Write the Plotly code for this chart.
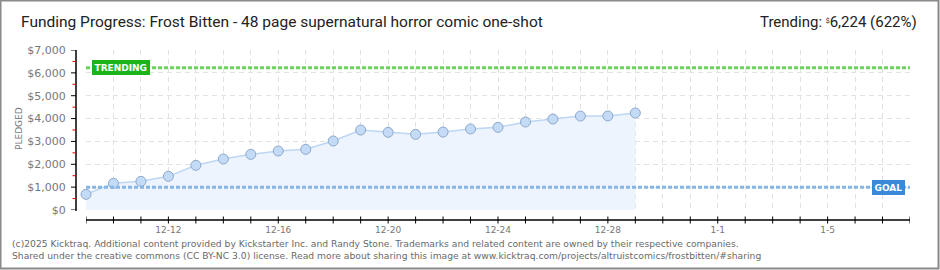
import plotly.graph_objects as go
import pandas as pd

# ---- data ----
dates = pd.date_range("2024-12-09", "2024-12-29", freq="D").strftime("%Y-%m-%d").tolist()
pledged = [685, 1167, 1254, 1473, 1954, 2231, 2435, 2581, 2654, 3019, 3500,
           3398, 3310, 3410, 3544, 3617, 3850, 3980, 4110, 4115, 4244]
goal = 1000
trending = 6224
trending_pct = 622
x_start, x_end = "2024-12-09", "2025-01-08"
x_tick_vals = ["2024-12-12", "2024-12-16", "2024-12-20", "2024-12-24",
               "2024-12-28", "2025-01-01", "2025-01-05"]
x_tick_text = ["12-12", "12-16", "12-20", "12-24", "12-28", "1-1", "1-5"]
y_tick_vals = [0, 1000, 2000, 3000, 4000, 5000, 6000, 7000]
y_tick_text = ["$0", "$1,000", "$2,000", "$3,000", "$4,000", "$5,000", "$6,000", "$7,000"]
y_minor_vals = [500, 1500, 2500, 3500, 4500, 5500, 6500]
title = "Funding Progress: Frost Bitten - 48 page supernatural horror comic one-shot"
footer1 = ("(c)2025 Kicktraq. Additional content provided by Kickstarter Inc. and Randy Stone. "
           "Trademarks and related content are owned by their respective companies.")
footer2 = ("Shared under the creative commons (CC BY-NC 3.0) license. Read more about sharing "
           "this image at www.kicktraq.com/projects/altruistcomics/frostbitten/#sharing")

W, H = 940, 270
L, R, T, B = 86, 910, 50, 210


def PX(px):
    return (px - L) / (R - L)


def PY(py):
    return (B - py) / (B - T)


GRID = "#e2e2e2"
fig = go.Figure()
fig.add_trace(go.Scatter(
    x=dates, y=pledged, mode="lines+markers", fill="tozeroy",
    fillcolor="#edf4fd", line=dict(color="#bcd6f3", width=1.5),
    marker=dict(size=10, color="#c3dbf6", line=dict(color="#8ea8cb", width=1)),
    hoverinfo="skip", showlegend=False, cliponaxis=False))

shapes = []
# goal / trending dotted lines
shapes.append(dict(type="line", xref="paper", yref="y", x0=0, x1=1, y0=trending, y1=trending,
                   line=dict(color="#6bd35c", width=3, dash="4px,2px"), layer="above"))
shapes.append(dict(type="line", xref="paper", yref="y", x0=0, x1=1, y0=goal, y1=goal,
                   line=dict(color="#86b5e6", width=3, dash="4px,2px"), layer="above"))
# axis lines
shapes.append(dict(type="line", xref="paper", yref="paper", x0=0, x1=1, y0=PY(220), y1=PY(220),
                   line=dict(color="#000", width=1.5)))
shapes.append(dict(type="line", xref="paper", yref="paper", x0=PX(76), x1=PX(76), y0=PY(50), y1=PY(211),
                   line=dict(color="#000", width=1.5)))
# x ticks every day
for d in pd.date_range(x_start, x_end, freq="D"):
    shapes.append(dict(type="line", xref="x", yref="paper", x0=d, x1=d, y0=PY(216.5), y1=PY(223.5),
                       line=dict(color="#000", width=1)))
# y ticks
for v in y_tick_vals:
    shapes.append(dict(type="line", xref="paper", yref="y", x0=PX(71), x1=PX(76), y0=v, y1=v,
                       line=dict(color="#000", width=1)))
for v in y_minor_vals:
    shapes.append(dict(type="line", xref="paper", yref="y", x0=PX(72.5), x1=PX(76), y0=v, y1=v,
                       line=dict(color="#e00000", width=1)))
# frame
shapes.append(dict(type="rect", xref="paper", yref="paper", x0=PX(0.5), x1=PX(938.5), y0=PY(268.5), y1=PY(0.5),
                   line=dict(color="#8a8a8a", width=2)))

annotations = [
    dict(text=title, xref="paper", yref="paper", x=PX(19), y=PY(22), xanchor="left", yanchor="middle",
         showarrow=False, font=dict(family="Roboto", size=15.5, color="#222")),
    dict(text="Trending: <span style='font-size:10px'><sup>$</sup></span>6,224 (%d%%)" % trending_pct,
         xref="paper", yref="paper",
         x=PX(919), y=PY(22), xanchor="right", yanchor="middle",
         showarrow=False, font=dict(family="Roboto", size=15, color="#222")),
    dict(text="PLEDGED", xref="paper", yref="paper", x=PX(19), y=PY(129), textangle=-90,
         xanchor="center", yanchor="middle",
         showarrow=False, font=dict(family="DejaVu Sans", size=9, color="#777")),
    dict(text="<b>TRENDING</b>", xref="paper", yref="y", x=PX(120.5), y=trending, showarrow=False,
         xanchor="center", yanchor="middle",
         bgcolor="#1bb51b", bordercolor="#1bb51b", borderpad=1.5, font=dict(family="DejaVu Sans", size=9, color="#fff")),
    dict(text="<b>GOAL</b>", xref="paper", yref="y", x=PX(888), y=goal, showarrow=False,
         xanchor="center", yanchor="middle",
         bgcolor="#3a88d8", bordercolor="#3a88d8", borderpad=1.5, font=dict(family="DejaVu Sans", size=9, color="#fff")),
    dict(text=footer1, xref="paper", yref="paper", x=PX(10), y=PY(243), xanchor="left", yanchor="middle",
         showarrow=False, font=dict(family="DejaVu Sans", size=9.2, color="#6a6a6a")),
    dict(text=footer2, xref="paper", yref="paper", x=PX(10), y=PY(255), xanchor="left", yanchor="middle",
         showarrow=False, font=dict(family="DejaVu Sans", size=9.2, color="#6a6a6a")),
]

fig.update_layout(
    width=W, height=H, margin=dict(l=L, r=W - R, t=T, b=H - B),
    paper_bgcolor="#fff", plot_bgcolor="#fff",
    shapes=shapes, annotations=annotations, showlegend=False,
    xaxis=dict(type="date", range=[x_start, x_end], tickvals=x_tick_vals, ticktext=x_tick_text,
               showgrid=True, gridcolor=GRID, griddash="5px,4px", gridwidth=1,
               minor=dict(dtick=86400000, showgrid=True, gridcolor=GRID, griddash="5px,4px", gridwidth=1),
               ticks="outside", ticklen=11, tickcolor="rgba(0,0,0,0)", showline=False, zeroline=False,
               tickfont=dict(family="DejaVu Sans", size=9, color="#777")),
    yaxis=dict(range=[0, 7000], tickvals=y_tick_vals, ticktext=y_tick_text,
               showgrid=True, gridcolor=GRID, griddash="5px,4px", gridwidth=1,
               ticks="outside", ticklen=17, tickcolor="rgba(0,0,0,0)", showline=False, zeroline=False,
               tickfont=dict(family="DejaVu Sans", size=11, color="#777")),
)

fig.write_html("out.html")
